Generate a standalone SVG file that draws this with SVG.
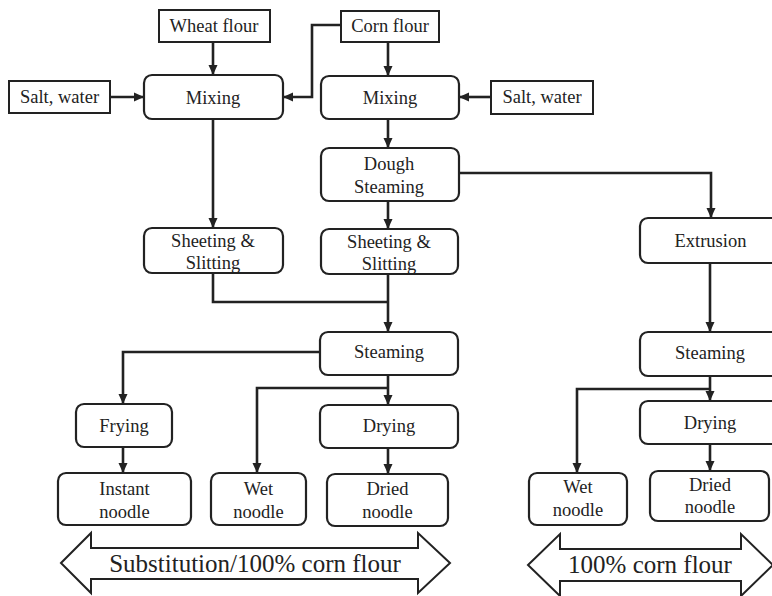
<svg xmlns="http://www.w3.org/2000/svg" width="772" height="596" viewBox="0 0 772 596">
<defs>
<style>
.box{fill:#fff;stroke:#222;stroke-width:2}
.rbox{fill:#fff;stroke:#222;stroke-width:2.2}
.lbl{font-family:"Liberation Serif",serif;font-size:18.5px;fill:#222;text-anchor:middle}
.big{font-family:"Liberation Serif",serif;font-size:25px;fill:#222;text-anchor:middle}
.con{fill:none;stroke:#222;stroke-width:2.6}
.band{fill:#fff;stroke:#222;stroke-width:2}
</style>
<marker id="ah" markerUnits="userSpaceOnUse" markerWidth="10" markerHeight="10" refX="10" refY="5" orient="auto" viewBox="0 0 10 10">
<path d="M0,0.5 L10,5 L0,9.5 z" fill="#222"/>
</marker>
</defs>
<rect width="772" height="596" fill="#fff"/>

<g id="connectors">
<path class="con" d="M213,42 V75" marker-end="url(#ah)"/>
<path class="con" d="M110,97 H144" marker-end="url(#ah)"/>
<path class="con" d="M341,25 H312 V97 H283" marker-end="url(#ah)"/>
<path class="con" d="M388,42 V76" marker-end="url(#ah)"/>
<path class="con" d="M491,97 H459" marker-end="url(#ah)"/>
<path class="con" d="M213,119 V228" marker-end="url(#ah)"/>
<path class="con" d="M388,119 V148" marker-end="url(#ah)"/>
<path class="con" d="M388,201 V229" marker-end="url(#ah)"/>
<path class="con" d="M459,173 H711 V218" marker-end="url(#ah)"/>
<path class="con" d="M213,273 V302 H388"/>
<path class="con" d="M388,274 V332" marker-end="url(#ah)"/>
<path class="con" d="M320,352 H123 V404" marker-end="url(#ah)"/>
<path class="con" d="M123,447 V473" marker-end="url(#ah)"/>
<path class="con" d="M388,375 V405" marker-end="url(#ah)"/>
<path class="con" d="M388,388 H257 V473" marker-end="url(#ah)"/>
<path class="con" d="M388,448 V474" marker-end="url(#ah)"/>
<path class="con" d="M710,263 V332" marker-end="url(#ah)"/>
<path class="con" d="M710,376 V401" marker-end="url(#ah)"/>
<path class="con" d="M710,389 H577 V473" marker-end="url(#ah)"/>
<path class="con" d="M710,444 V471" marker-end="url(#ah)"/>
</g>

<g id="wheat-flour"><rect class="box" x="159" y="10" width="111" height="32"/><text class="lbl" x="214" y="32">Wheat flour</text></g>
<g id="corn-flour"><rect class="box" x="341" y="11" width="98" height="31"/><text class="lbl" x="390" y="32">Corn flour</text></g>
<g id="salt-water-left"><rect class="box" x="9" y="81" width="101" height="32"/><text class="lbl" x="59.5" y="103">Salt, water</text></g>
<g id="salt-water-right"><rect class="box" x="491" y="81" width="102" height="33"/><text class="lbl" x="542" y="103">Salt, water</text></g>
<g id="mixing-left"><rect class="rbox" x="144" y="75" width="139" height="44" rx="8"/><text class="lbl" x="213" y="104">Mixing</text></g>
<g id="mixing-right"><rect class="rbox" x="321" y="76" width="138" height="43" rx="8"/><text class="lbl" x="390" y="104">Mixing</text></g>
<g id="dough-steaming"><rect class="rbox" x="321" y="148" width="138" height="53" rx="8"/><text class="lbl" x="389" y="170">Dough</text><text class="lbl" x="389" y="193">Steaming</text></g>
<g id="sheeting-left"><rect class="rbox" x="144" y="228" width="139" height="45" rx="8"/><text class="lbl" x="213" y="247">Sheeting &amp;</text><text class="lbl" x="213" y="269">Slitting</text></g>
<g id="sheeting-right"><rect class="rbox" x="321" y="229" width="137" height="45" rx="8"/><text class="lbl" x="389" y="248">Sheeting &amp;</text><text class="lbl" x="389" y="270">Slitting</text></g>
<g id="extrusion"><rect class="rbox" x="640" y="218" width="142" height="45" rx="8"/><text class="lbl" x="710.5" y="247">Extrusion</text></g>
<g id="steaming-mid"><rect class="rbox" x="320" y="332" width="138" height="43" rx="8"/><text class="lbl" x="389" y="358">Steaming</text></g>
<g id="steaming-right"><rect class="rbox" x="640" y="332" width="142" height="44" rx="8"/><text class="lbl" x="710" y="359">Steaming</text></g>
<g id="frying"><rect class="rbox" x="76" y="404" width="96" height="43" rx="8"/><text class="lbl" x="124" y="432">Frying</text></g>
<g id="drying-mid"><rect class="rbox" x="320" y="405" width="138" height="43" rx="8"/><text class="lbl" x="389" y="432">Drying</text></g>
<g id="drying-right"><rect class="rbox" x="640" y="401" width="142" height="43" rx="8"/><text class="lbl" x="710" y="429">Drying</text></g>
<g id="instant-noodle"><rect class="rbox" x="58" y="473" width="133" height="52" rx="8"/><text class="lbl" x="124.5" y="495">Instant</text><text class="lbl" x="124.5" y="518">noodle</text></g>
<g id="wet-noodle-mid"><rect class="rbox" x="211" y="473" width="95" height="52" rx="8"/><text class="lbl" x="258.5" y="495">Wet</text><text class="lbl" x="258.5" y="518">noodle</text></g>
<g id="dried-noodle-mid"><rect class="rbox" x="327" y="474" width="121" height="52" rx="8"/><text class="lbl" x="387.5" y="495">Dried</text><text class="lbl" x="387.5" y="518">noodle</text></g>
<g id="wet-noodle-right"><rect class="rbox" x="529" y="473" width="98" height="52" rx="8"/><text class="lbl" x="578" y="493">Wet</text><text class="lbl" x="578" y="516">noodle</text></g>
<g id="dried-noodle-right"><rect class="rbox" x="650" y="471" width="119" height="50" rx="8"/><text class="lbl" x="710" y="491">Dried</text><text class="lbl" x="710" y="513">noodle</text></g>

<g id="band-substitution">
<polygon class="band" points="61,563 91,533 91,548 418,548 418,533 450,563 418,593 418,579 91,579 91,593"/>
<text class="big" x="255" y="572">Substitution/100% corn flour</text>
</g>
<g id="band-100">
<polygon class="band" points="528,565 560,534 560,549 741,549 741,534 773,565 741,596 741,581 560,581 560,596"/>
<text class="big" x="650" y="573">100% corn flour</text>
</g>
</svg>
